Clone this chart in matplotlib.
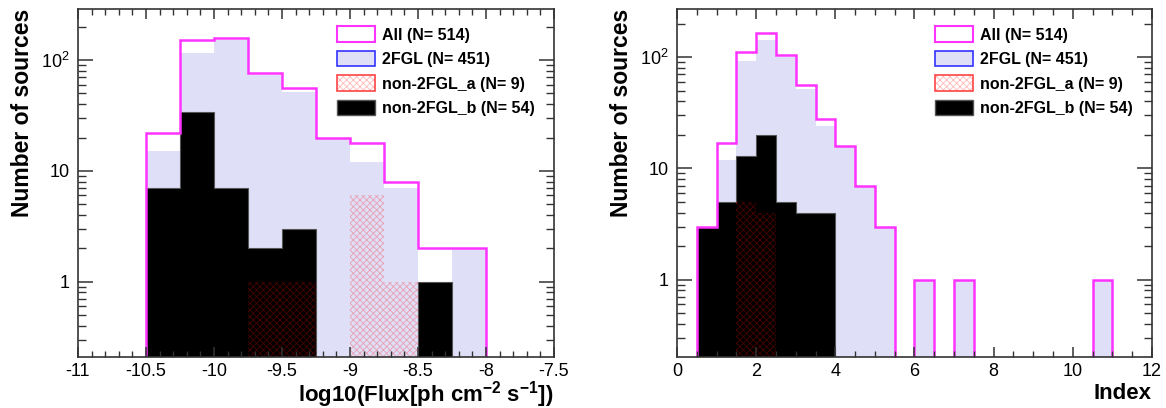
import numpy as np
import matplotlib
matplotlib.use("Agg")
import matplotlib.pyplot as plt
from matplotlib.patches import Patch
from matplotlib.ticker import FixedLocator, FuncFormatter, MultipleLocator, LogLocator, NullFormatter

plt.rcParams['font.family'] = ['Liberation Sans', 'DejaVu Sans']
plt.rcParams['mathtext.fontset'] = 'custom'
plt.rcParams['mathtext.rm'] = 'Liberation Sans'
plt.rcParams['mathtext.bf'] = 'Liberation Sans:bold'
plt.rcParams['hatch.linewidth'] = 0.6

# Flux histogram (log10 flux), bins of 0.25
flux_edges = np.arange(-10.5, -7.99, 0.25)
flux_all = [22, 151, 158, 77, 56, 20, 18, 8, 2, 2]
flux_2fgl = [15, 117, 151, 74, 52, 20, 12, 7, 1, 2]
flux_a = [0, 0, 0, 1, 1, 0, 6, 1, 0, 0]
flux_b = [7, 34, 7, 2, 3, 0, 0, 0, 1, 0]

# Photon index histogram, bins of 0.5
idx_edges = np.arange(0.5, 11.01, 0.5)
idx_all = [3, 17, 110, 166, 105, 56, 28, 16, 7, 3, 0, 1, 0, 1, 0, 0, 0, 0, 0, 0, 1]
idx_2fgl = [0, 12, 92, 142, 100, 52, 24, 16, 7, 3, 0, 1, 0, 1, 0, 0, 0, 0, 0, 0, 1]
idx_a = [0, 0, 5, 4, 0, 0, 0, 0, 0, 0, 0, 0, 0, 0, 0, 0, 0, 0, 0, 0, 0]
idx_b = [3, 5, 13, 20, 5, 4, 4, 0, 0, 0, 0, 0, 0, 0, 0, 0, 0, 0, 0, 0, 0]

labels = ['All (N= 514)', '2FGL (N= 451)', 'non-2FGL_a (N= 9)', 'non-2FGL_b (N= 54)']

MAGENTA = '#ff33ff'
BLUEFILL = '#dfdff7'
RED_HATCH = (1.0, 0.0, 0.0, 0.28)


def draw_hist(ax, edges, v_all, v_2fgl, v_a, v_b):
    ax.stairs(v_2fgl, edges, fill=True, color=BLUEFILL, baseline=1e-3)
    ax.stairs(v_b, edges, fill=True, facecolor='black', edgecolor='#555555',
              linewidth=0.8, baseline=1e-3)
    ax.stairs(v_a, edges, fill=True, facecolor='none', edgecolor=RED_HATCH,
              hatch='xxxxx', linewidth=0, baseline=1e-3)
    ax.stairs(v_all, edges, color=MAGENTA, linewidth=1.8, baseline=1e-3)


def style_axis(ax, ylim):
    ax.set_yscale('log')
    ax.set_ylim(*ylim)
    ax.yaxis.set_major_locator(FixedLocator([1, 10, 100]))
    ax.yaxis.set_minor_locator(LogLocator(base=10, subs=np.arange(2, 10)))
    ax.yaxis.set_minor_formatter(NullFormatter())
    ax.yaxis.set_major_formatter(FuncFormatter(
        lambda v, p: {1: '1', 10: '10', 100: '$10^{2}$'}.get(int(round(v)), '')))
    ax.tick_params(axis='both', which='both', direction='in', top=True, right=True,
                   labelsize=13, color='#333333', pad=6)
    ax.tick_params(axis='y', which='major', length=11, width=1.1)
    ax.tick_params(axis='y', which='minor', length=5.5, width=1.0)
    ax.tick_params(axis='x', which='major', length=7, width=1.1, pad=4)
    ax.tick_params(axis='x', which='minor', length=4, width=1.0)
    for s in ax.spines.values():
        s.set_color('#333333')
        s.set_linewidth(1.2)
    ax.set_ylabel('Number of sources', fontsize=16.5, fontweight='bold', loc='top')
    ax.yaxis.set_label_coords(-0.092, 1.0)


def add_legend(ax, x0):
    handles = [
        Patch(facecolor='white', edgecolor=MAGENTA, linewidth=1.5),
        Patch(facecolor=BLUEFILL, edgecolor='#3333ff', linewidth=1.2),
        (Patch(facecolor='none', edgecolor=RED_HATCH, hatch='xxxxx', linewidth=0),
         Patch(facecolor='none', edgecolor='#ff4444', linewidth=1.2)),
        Patch(facecolor='black', edgecolor='#555555', linewidth=1.0),
    ]
    leg = ax.legend(handles, labels, loc='upper left', bbox_to_anchor=(x0, 0.95),
                    frameon=False, borderaxespad=0, borderpad=0,
                    handlelength=2.4, handleheight=1.12, labelspacing=0.52,
                    handletextpad=0.45, prop={'size': 11.5, 'weight': 'bold'})
    return leg


fig = plt.figure(figsize=(11.66, 4.08), dpi=100)
ax1 = fig.add_axes([78 / 1166, 51 / 408, 476 / 1166, 348 / 408])
ax2 = fig.add_axes([677 / 1166, 51 / 408, 475 / 1166, 348 / 408])

draw_hist(ax1, flux_edges, flux_all, flux_2fgl, flux_a, flux_b)
style_axis(ax1, (0.209, 289))
ax1.set_xlim(-11, -7.5)
ax1.xaxis.set_major_locator(MultipleLocator(0.5))
ax1.xaxis.set_minor_locator(MultipleLocator(0.1))
ax1.xaxis.set_major_formatter(FuncFormatter(lambda v, p: '%g' % v))
ax1.set_xlabel(r'log10(Flux[ph cm$^{\mathbf{-2}}$ s$^{\mathbf{-1}}$])', fontsize=16,
               fontweight='bold', loc='right', va='baseline')
ax1.xaxis.set_label_coords(1.0, -0.128)
add_legend(ax1, 0.544)

draw_hist(ax2, idx_edges, idx_all, idx_2fgl, idx_a, idx_b)
style_axis(ax2, (0.202, 270))
ax2.set_xlim(0, 12)
ax2.xaxis.set_major_locator(MultipleLocator(2))
ax2.xaxis.set_minor_locator(MultipleLocator(0.5))
ax2.set_xlabel('Index', fontsize=16, fontweight='bold', loc='right', va='baseline')
ax2.xaxis.set_label_coords(1.0, -0.12)
add_legend(ax2, 0.543)

fig.savefig('out.png', dpi=100)
